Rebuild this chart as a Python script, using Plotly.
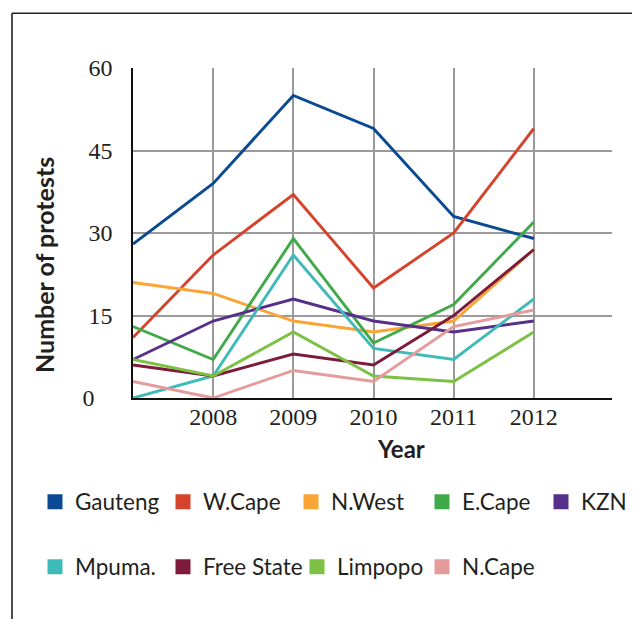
import plotly.graph_objects as go

years = [2007, 2008, 2009, 2010, 2011, 2012]
tick_years = [2008, 2009, 2010, 2011, 2012]
y_ticks = [0, 15, 30, 45, 60]

gauteng = [28, 39, 55, 49, 33, 29]
w_cape = [11, 26, 37, 20, 30, 49]
n_west = [21, 19, 14, 12, 14, 27]
e_cape = [13, 7, 29, 10, 17, 32]
kzn = [7, 14, 18, 14, 12, 14]
mpuma = [0, 4, 26, 9, 7, 18]
free_state = [6, 4, 8, 6, 15, 27]
limpopo = [7, 4, 12, 4, 3, 12]
n_cape = [3, 0, 5, 3, 13, 16]

series = [
    ("Gauteng", gauteng, "#0b4a92", "legend", 83),
    ("W.Cape", w_cape, "#d6432c", "legend", 83),
    ("N.West", n_west, "#f8a535", "legend", 86),
    ("E.Cape", e_cape, "#40aa49", "legend", 74),
    ("KZN", kzn, "#56308a", "legend", 52),
    ("Mpuma.", mpuma, "#3ebbb7", "legend2", 83),
    ("Free State", free_state, "#7c1b3b", "legend2", 89),
    ("Limpopo", limpopo, "#7cc143", "legend2", 80),
    ("N.Cape", n_cape, "#e59a9b", "legend2", 80),
]

fig = go.Figure()
for name, vals, color, leg, lw in series:
    fig.add_trace(go.Scatter(
        x=years, y=vals, mode="lines", name=name,
        line=dict(color=color, width=2.9), showlegend=False,
    ))
for name, vals, color, leg, lw in series:
    fig.add_trace(go.Scatter(
        x=[None], y=[None], mode="markers", name=name,
        marker=dict(symbol="square", size=15, color=color),
        legend=leg, legendwidth=lw, showlegend=True,
    ))

OFF = 8  # page body margin
W, H = 632, 611
L, R, T, B = 133 - OFF, 28, 68 - OFF, 221
pw, ph = W - L - R, H - T - B

def px(x):
    return (x - OFF - L) / pw

def py(y):
    return (H - B - (y - OFF)) / ph

legend_common = dict(
    orientation="h", xanchor="left", yanchor="middle",
    font=dict(family="Lato, 'Open Sans', sans-serif", size=22.5, color="#231f20"),
    bgcolor="rgba(0,0,0,0)", itemclick=False, entrywidthmode="pixels",
    tracegroupgap=0,
)

fig.update_layout(
    width=W, height=H,
    margin=dict(l=L, r=R, t=T, b=B, autoexpand=False),
    paper_bgcolor="white", plot_bgcolor="white",
    font=dict(family="Lato, sans-serif", color="#231f20"),
    xaxis=dict(
        range=[2007, 2012.975], tickmode="array", tickvals=tick_years,
        ticktext=[str(v) for v in tick_years],
        showgrid=True, gridcolor="#9a9a9a", gridwidth=1.5,
        showline=True, linecolor="#111111", linewidth=1.5,
        ticks="", zeroline=False, ticklabelstandoff=-4,
        tickfont=dict(family="'Liberation Serif', serif", size=24, color="#231f20"),
    ),
    yaxis=dict(
        range=[0, 60], tickmode="array", tickvals=y_ticks,
        ticktext=["0\u00a0\u00a0\u00a0", "15", "30", "45", "60"],
        showgrid=True, gridcolor="#9a9a9a", gridwidth=1.5,
        showline=True, linecolor="#111111", linewidth=1.5,
        ticks="", zeroline=False, ticklabelstandoff=14,
        tickfont=dict(family="'Liberation Serif', serif", size=24, color="#231f20"),
    ),
    legend=dict(x=px(35), y=py(502), **legend_common),
    legend2=dict(x=px(35), y=py(567), **legend_common),
    showlegend=True,
    annotations=[
        dict(text="<b>Number of protests</b>", textangle=-90, x=px(44), y=py(265),
             xref="paper", yref="paper", xanchor="center", yanchor="middle",
             showarrow=False, font=dict(family="Lato, sans-serif", size=25, color="#231f20")),
        dict(text="<b>Year</b>", x=px(401), y=py(448),
             xref="paper", yref="paper", xanchor="center", yanchor="middle",
             showarrow=False, font=dict(family="Lato, sans-serif", size=24, color="#231f20")),
    ],
    shapes=[
        dict(type="line", xref="paper", yref="paper", x0=px(12), x1=px(642),
             y0=py(13.3), y1=py(13.3), line=dict(color="#222222", width=1.6)),
        dict(type="line", xref="paper", yref="paper", x0=px(12), x1=px(12),
             y0=py(13.3), y1=py(622), line=dict(color="#222222", width=1.6)),
    ],
)

fig.write_html("out.html")
